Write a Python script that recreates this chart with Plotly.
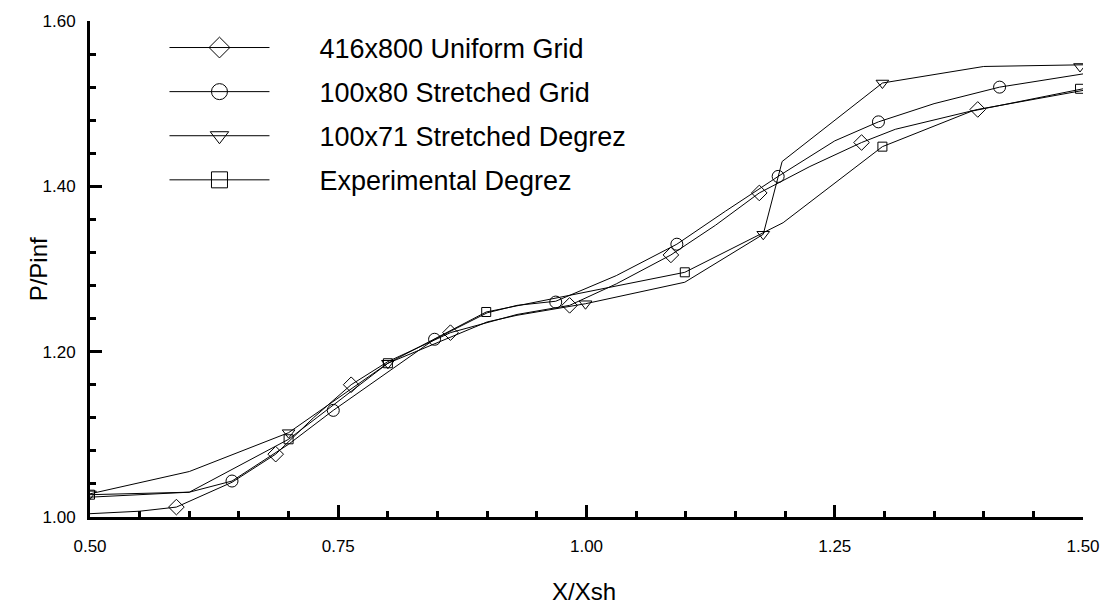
import plotly.graph_objects as go

# ---------------- data ----------------
series_names = ["416x800 Uniform Grid", "100x80 Stretched Grid",
                "100x71 Stretched Degrez", "Experimental Degrez"]
series_symbols = ["diamond-open", "circle-open", "triangle-down-open", "square-open"]

# 416x800 Uniform Grid
uniform_line_x = [0.50, 0.55, 0.587, 0.643, 0.687, 0.725, 0.763, 0.80, 0.863, 0.93, 0.983, 1.03, 1.085, 1.13, 1.174, 1.225, 1.277, 1.311, 1.394, 1.45, 1.50]
uniform_line_y = [1.004, 1.007, 1.012, 1.042, 1.076, 1.120, 1.160, 1.188, 1.223, 1.245, 1.256, 1.282, 1.317, 1.353, 1.392, 1.424, 1.453, 1.469, 1.493, 1.505, 1.516]
uniform_mark_x = [0.587, 0.687, 0.763, 0.863, 0.983, 1.085, 1.174, 1.277, 1.394]
uniform_mark_y = [1.012, 1.076, 1.160, 1.223, 1.256, 1.317, 1.392, 1.453, 1.493]

# 100x80 Stretched Grid
stretched_line_x = [0.50, 0.60, 0.643, 0.70, 0.745, 0.80, 0.847, 0.90, 0.93, 0.969, 1.03, 1.091, 1.14, 1.193, 1.25, 1.294, 1.35, 1.416, 1.50]
stretched_line_y = [1.024, 1.030, 1.0435, 1.088, 1.129, 1.175, 1.215, 1.247, 1.256, 1.261, 1.292, 1.330, 1.370, 1.412, 1.455, 1.478, 1.500, 1.520, 1.536]
stretched_mark_x = [0.643, 0.745, 0.847, 0.969, 1.091, 1.193, 1.294, 1.416]
stretched_mark_y = [1.0435, 1.129, 1.215, 1.260, 1.330, 1.412, 1.478, 1.520]

# 100x71 Stretched Degrez
degrez_line_x = [0.50, 0.60, 0.70, 0.80, 0.90, 0.93, 0.999, 1.099, 1.178, 1.197, 1.298, 1.40, 1.50]
degrez_line_y = [1.028, 1.055, 1.102, 1.186, 1.236, 1.244, 1.258, 1.284, 1.342, 1.430, 1.525, 1.545, 1.547]
degrez_mark_x = [0.50, 0.70, 0.80, 0.999, 1.178, 1.298, 1.497]
degrez_mark_y = [1.028, 1.102, 1.186, 1.258, 1.342, 1.525, 1.545]

# Experimental Degrez
exp_line_x = [0.50, 0.60, 0.70, 0.80, 0.899, 1.00, 1.099, 1.198, 1.298, 1.388, 1.50]
exp_line_y = [1.027, 1.030, 1.094, 1.186, 1.248, 1.272, 1.296, 1.356, 1.448, 1.491, 1.518]
exp_mark_x = [0.50, 0.70, 0.80, 0.899, 1.099, 1.298, 1.497]
exp_mark_y = [1.027, 1.094, 1.186, 1.248, 1.296, 1.448, 1.518]

x_tick_vals = [0.50, 0.75, 1.00, 1.25, 1.50]
x_tick_text = ["0.50", "0.75", "1.00", "1.25", "1.50"]
y_tick_vals = [1.00, 1.20, 1.40, 1.60]
y_tick_text = ["1.00", "1.20", "1.40", "1.60"]
x_title = "X/Xsh"
y_title = "P/Pinf"

lines = [(uniform_line_x, uniform_line_y), (stretched_line_x, stretched_line_y),
         (degrez_line_x, degrez_line_y), (exp_line_x, exp_line_y)]
marks = [(uniform_mark_x, uniform_mark_y), (stretched_mark_x, stretched_mark_y),
         (degrez_mark_x, degrez_mark_y), (exp_mark_x, exp_mark_y)]
mark_sizes = [12, 12, 11, 9]

FONT = "Liberation Sans, Arial, sans-serif"
GAP = "\u00a0" * 6  # spacing between legend sample and its label

fig = go.Figure()
for (lx, ly) in lines:
    fig.add_trace(go.Scatter(x=lx, y=ly, mode="lines",
                             line=dict(color="black", width=1),
                             showlegend=False, hoverinfo="skip"))
for (mx, my), sym, sz in zip(marks, series_symbols, mark_sizes):
    fig.add_trace(go.Scatter(x=mx, y=my, mode="markers",
                             marker=dict(symbol=sym, size=sz, color="black",
                                         line=dict(color="black", width=1)),
                             showlegend=False, hoverinfo="skip"))
# legend entries
for i, (name, sym) in enumerate(zip(series_names, series_symbols)):
    fig.add_trace(go.Scatter(x=[None], y=[None], mode="lines+markers", name=GAP + name,
                             legendgroup=f"g{i}",
                             line=dict(color="black", width=1),
                             marker=dict(symbol=sym, size=16, color="black",
                                         line=dict(color="black", width=1))))

fig.update_layout(
    width=1112, height=606,
    margin=dict(l=90, r=23, t=16, b=89),
    paper_bgcolor="white", plot_bgcolor="white",
    font=dict(family=FONT, color="black"),
    showlegend=True,
    legend=dict(x=0.075, y=0.995, xanchor="left", yanchor="top",
                font=dict(size=27, family=FONT), bgcolor="rgba(0,0,0,0)",
                traceorder="grouped", tracegroupgap=6, itemwidth=100),
    xaxis=dict(range=[0.5, 1.5], tickvals=x_tick_vals, ticktext=x_tick_text,
               showgrid=False, zeroline=False, showline=True, linewidth=3, linecolor="black",
               ticks="inside", ticklen=12, tickwidth=3, tickcolor="black",
               tickfont=dict(size=17), ticklabelstandoff=12,
               minor=dict(ticks="inside", ticklen=6, tickwidth=3, tickcolor="black", dtick=0.05, showgrid=False)),
    yaxis=dict(range=[1.0, 1.6], tickvals=y_tick_vals, ticktext=y_tick_text,
               showgrid=False, zeroline=False, showline=True, linewidth=3, linecolor="black",
               ticks="inside", ticklen=12, tickwidth=3, tickcolor="black",
               tickfont=dict(size=17), ticklabelstandoff=8,
               minor=dict(ticks="inside", ticklen=6, tickwidth=3, tickcolor="black", dtick=0.04, showgrid=False)),
    annotations=[
        dict(text=x_title, xref="paper", yref="paper", x=0.497, y=-0.15,
             xanchor="center", yanchor="middle", showarrow=False, font=dict(size=24)),
        dict(text=y_title, xref="paper", yref="paper", x=-0.052, y=0.5,
             xanchor="center", yanchor="middle", textangle=-90, showarrow=False, font=dict(size=24)),
    ],
)

fig.write_html("out.html", config={"displayModeBar": False},
               post_script="document.body.style.margin='0';document.body.style.padding='0';")
